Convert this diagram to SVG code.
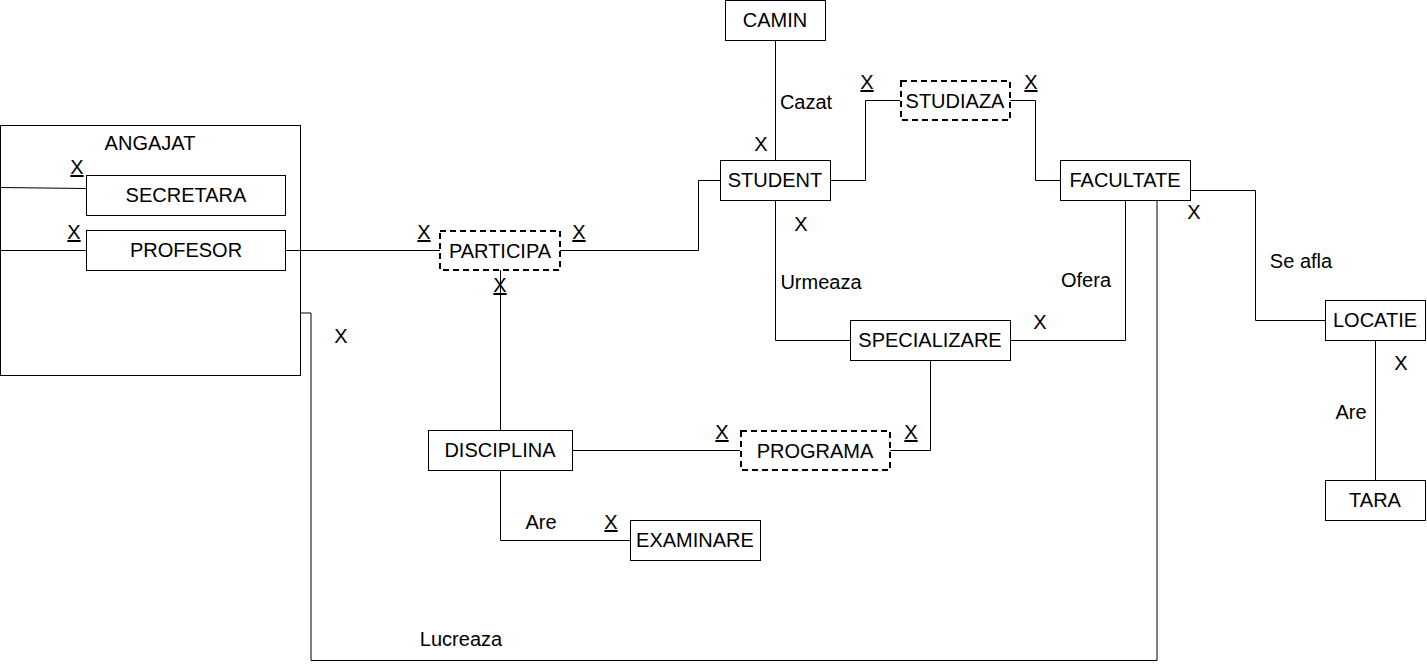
<svg xmlns="http://www.w3.org/2000/svg" width="1427" height="664" viewBox="0 0 1427 664">
<style>
text{font-family:"Liberation Sans",Arial,sans-serif;font-size:20px;fill:#000;}
.c{text-anchor:middle;}
.u{text-decoration:underline;}
.e{fill:#fff;stroke:#000;stroke-width:1;}
.d{fill:#fff;stroke:#000;stroke-width:2;stroke-dasharray:6 4;}
.l{fill:none;stroke:#000;stroke-width:1;}
</style>
<rect width="1427" height="664" fill="#fff"/>
<g id="angajat">
<rect class="e" x="0.5" y="125.5" width="300" height="250"/>
<text class="c" x="150" y="150">ANGAJAT</text>
</g>
<g id="connectors">
<polyline class="l" points="0,187.5 86,188.5"/>
<polyline class="l" points="0,250.5 86,250.5"/>
<polyline class="l" points="285,250.5 440,250.5"/>
<polyline class="l" points="560,250.5 698.5,250.5 698.5,180.5 720,180.5"/>
<polyline class="l" points="775.5,40 775.5,160"/>
<polyline class="l" points="830,180.5 865.5,180.5 865.5,100.5 900,100.5"/>
<polyline class="l" points="1010,100.5 1035.5,100.5 1035.5,180.5 1060,180.5"/>
<polyline class="l" points="1190,190.5 1255.5,190.5 1255.5,320.5 1325,320.5"/>
<polyline class="l" points="1375.5,340 1375.5,480"/>
<polyline class="l" points="775.5,200 775.5,340.5 850,340.5"/>
<polyline class="l" points="1125.5,200 1125.5,340.5 1010,340.5"/>
<polyline class="l" points="930.5,360 930.5,450.5 890,450.5"/>
<polyline class="l" points="572,450.5 740,450.5"/>
<polyline class="l" points="500.5,270 500.5,430"/>
<polyline class="l" points="500.5,470 500.5,540.5 630,540.5"/>
<polyline class="l" points="300,313 311,313 311,660.5 1157,660.5 1157,200"/>
</g>
<g id="secretara">
<rect class="e" x="86.5" y="175.5" width="199" height="40"/>
<text class="c" x="186" y="202">SECRETARA</text>
</g>
<g id="profesor">
<rect class="e" x="86.5" y="230.5" width="199" height="40"/>
<text class="c" x="186" y="257">PROFESOR</text>
</g>
<g id="participa">
<rect class="d" x="440" y="231" width="120" height="39"/>
<text class="c" x="500" y="258">PARTICIPA</text>
</g>
<g id="camin">
<rect class="e" x="725.5" y="0.5" width="100" height="40"/>
<text class="c" x="775" y="27">CAMIN</text>
</g>
<g id="student">
<rect class="e" x="720.5" y="160.5" width="110" height="40"/>
<text class="c" x="775" y="187">STUDENT</text>
</g>
<g id="studiaza">
<rect class="d" x="901" y="81" width="109" height="39"/>
<text class="c" x="955" y="108">STUDIAZA</text>
</g>
<g id="facultate">
<rect class="e" x="1060.5" y="160.5" width="130" height="40"/>
<text class="c" x="1125" y="187">FACULTATE</text>
</g>
<g id="locatie">
<rect class="e" x="1325.5" y="300.5" width="100" height="40"/>
<text class="c" x="1375" y="327">LOCATIE</text>
</g>
<g id="tara">
<rect class="e" x="1325.5" y="480.5" width="100" height="40"/>
<text class="c" x="1375" y="507">TARA</text>
</g>
<g id="specializare">
<rect class="e" x="850.5" y="320.5" width="160" height="40"/>
<text class="c" x="930" y="347">SPECIALIZARE</text>
</g>
<g id="disciplina">
<rect class="e" x="428.5" y="430.5" width="144" height="40"/>
<text class="c" x="500" y="457">DISCIPLINA</text>
</g>
<g id="programa">
<rect class="d" x="741" y="431" width="149" height="39"/>
<text class="c" x="815" y="458">PROGRAMA</text>
</g>
<g id="examinare">
<rect class="e" x="630.5" y="520.5" width="130" height="40"/>
<text class="c" x="695" y="547">EXAMINARE</text>
</g>
<g id="labels">
<text class="c u" x="77" y="174">X</text>
<text class="c u" x="74" y="239">X</text>
<text class="c u" x="424" y="239">X</text>
<text class="c u" x="579" y="239">X</text>
<text class="c u" x="500" y="292">X</text>
<text class="c" x="806" y="109">Cazat</text>
<text class="c" x="761" y="151">X</text>
<text class="c u" x="867" y="89">X</text>
<text class="c u" x="1031" y="89">X</text>
<text class="c" x="1194" y="219">X</text>
<text class="c" x="1301" y="268">Se afla</text>
<text class="c" x="1401" y="370">X</text>
<text class="c" x="1351" y="419">Are</text>
<text class="c" x="801" y="231">X</text>
<text class="c" x="821" y="289">Urmeaza</text>
<text class="c" x="1086" y="287">Ofera</text>
<text class="c" x="1040" y="329">X</text>
<text class="c u" x="722" y="439">X</text>
<text class="c u" x="911" y="439">X</text>
<text class="c" x="541" y="529">Are</text>
<text class="c u" x="611" y="529">X</text>
<text class="c" x="341" y="343">X</text>
<text class="c" x="461" y="646">Lucreaza</text>
</g>
</svg>
